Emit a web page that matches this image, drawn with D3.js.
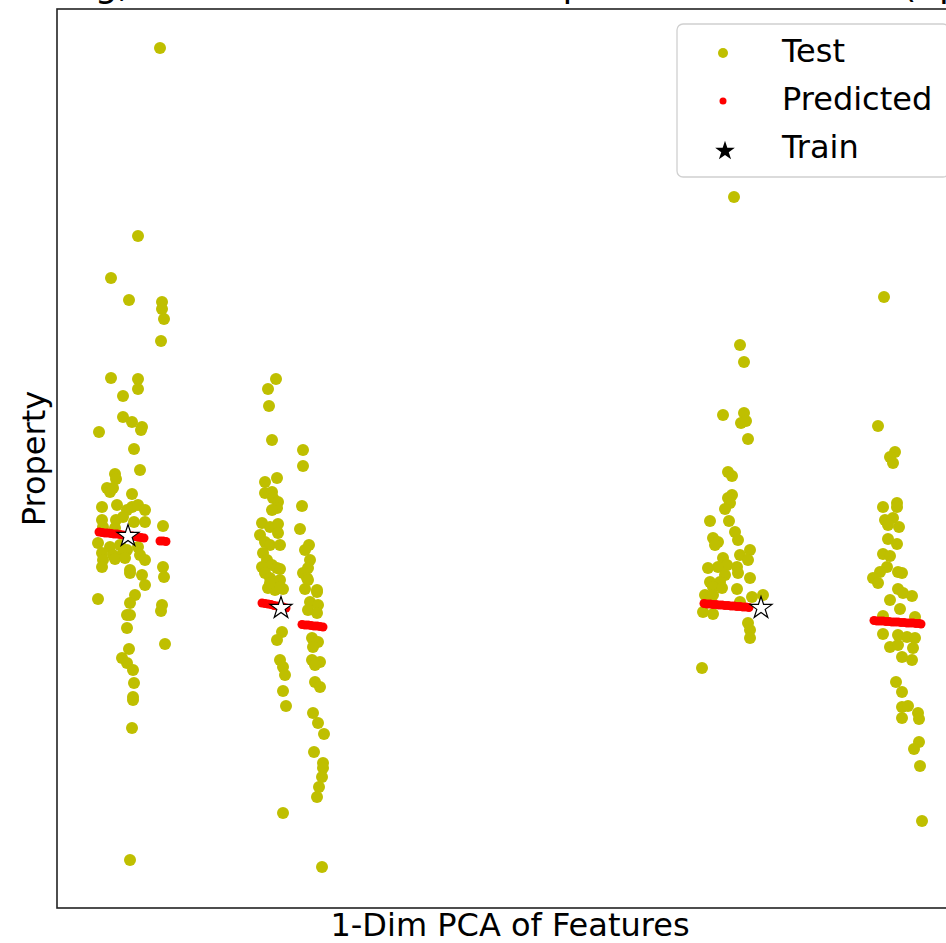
<!DOCTYPE html>
<html>
<head>
<meta charset="utf-8">
<script src="https://cdn.jsdelivr.net/npm/d3@7"></script>
<style>
  html, body { margin: 0; padding: 0; background: #fff; overflow: hidden; }
  svg { display: block; font-family: "DejaVu Sans", sans-serif; }
</style>
</head>
<body>
<svg id="chart" width="946" height="943"></svg>
<script>
// test samples, per cluster: [pca, property]
const testA = [[10.3,86.0],[8.1,67.2],[5.4,63.0],[7.2,60.8],[10.5,60.6],[10.5,59.9],[10.7,58.9],[10.4,56.7],
  [5.4,53.0],[8.1,52.9],[8.1,51.9],[6.6,51.2],[6.6,49.1],[7.5,48.6],[8.5,48.1],[8.4,47.8],[4.2,47.6],[7.7,45.9],
  [8.3,43.8],[5.8,43.4],[5.9,42.9],[5.0,42.0],[5.3,41.6],[5.6,42.0],[7.5,41.4],[4.5,40.1],[6.0,40.3],[7.0,39.8],
  [7.5,40.1],[8.1,40.3],[8.8,39.8],[4.5,38.8],[5.9,38.8],[6.6,39.1],[7.7,38.6],[8.8,38.6],[10.6,38.2],[4.6,38.1],
  [5.8,38.0],[4.1,36.5],[5.3,36.1],[6.3,36.3],[7.0,35.8],[8.1,36.1],[4.5,35.5],[5.6,35.3],[6.6,35.5],[8.3,35.3],
  [8.8,34.8],[4.6,34.8],[5.8,34.9],[6.8,35.0],[4.5,34.1],[10.6,34.1],[10.7,33.1],[7.3,33.8],[7.3,33.5],[8.5,33.3],
  [8.8,32.3],[7.8,31.3],[7.3,30.5],[4.1,30.9],[10.5,30.3],[10.4,29.7],[7.0,29.3],[7.3,29.3],[7.0,28.0],[10.8,26.4],
  [7.2,25.9],[6.5,25.0],[7.0,24.5],[7.6,23.8],[7.7,22.5],[7.6,21.1],[7.6,20.8],[7.5,18.0],[7.3,4.8]]
const testB = [[21.9,52.9],[21.1,51.9],[21.2,50.2],[21.5,46.8],[24.6,45.8],[24.6,44.2],[20.8,42.6],[22.0,43.0],
  [20.8,41.5],[21.5,41.6],[21.6,41.0],[22.1,40.6],[22.0,40.0],[21.5,39.8],[24.5,40.2],[20.5,38.5],[21.3,38.1],
  [22.1,38.4],[22.1,37.5],[24.3,37.9],[20.3,37.3],[20.8,36.6],[21.3,36.3],[22.3,36.3],[25.2,36.3],[24.8,35.8],
  [20.6,35.5],[21.0,34.8],[21.5,34.3],[22.0,34.0],[22.3,33.9],[25.3,34.8],[25.1,34.0],[20.5,34.1],[20.8,33.5],
  [21.3,33.0],[21.8,32.6],[22.3,32.8],[24.6,33.5],[25.0,33.0],[21.1,32.0],[21.8,31.8],[22.6,31.9],[24.8,31.9],
  [26.0,31.8],[21.3,32.5],[22.3,32.1],[25.1,32.8],[26.0,31.6],[25.3,30.6],[26.1,30.3],[25.1,29.8],[26.0,29.5],
  [22.5,27.6],[22.0,26.8],[25.5,27.0],[26.1,26.6],[25.6,26.1],[22.3,24.8],[22.6,24.1],[22.8,23.3],[25.5,24.8],
  [26.3,24.6],[25.8,24.3],[25.8,22.6],[26.3,22.1],[22.6,21.7],[22.9,20.2],[25.6,19.5],[26.1,18.5],[26.7,17.4],
  [25.7,15.6],[26.6,14.5],[26.6,14.0],[26.5,13.1],[26.2,12.1],[26.0,11.1],[22.6,9.5],[26.5,4.1]]
const testC = [[67.7,71.1],[68.3,56.3],[68.7,54.6],[66.6,49.3],[68.7,49.5],[68.4,48.5],[68.9,48.7],[69.1,46.9],
  [67.1,43.6],[67.5,43.2],[67.5,41.3],[67.1,41.0],[67.3,40.5],[66.8,39.9],[65.3,38.7],[67.2,38.7],[67.8,37.6],
  [68.1,36.8],[65.6,37.0],[66.1,36.6],[65.8,36.3],[68.3,35.3],[69.3,35.8],[69.1,34.8],[66.6,35.0],[67.0,34.3],
  [66.1,34.1],[65.1,34.0],[68.0,34.1],[68.1,33.5],[66.8,33.3],[66.3,32.6],[65.3,32.6],[69.3,33.0],[65.6,32.1],
  [66.5,32.0],[68.0,31.9],[64.8,31.3],[65.6,31.3],[68.3,30.6],[69.5,31.1],[70.6,31.3],[64.6,29.6],[65.6,29.4],
  [69.1,28.5],[69.3,27.8],[69.3,27.0],[64.5,24.0]]
const testD = [[82.7,61.1],[82.1,48.2],[83.8,45.6],[83.3,45.1],[83.6,44.5],[82.6,40.1],[84.0,40.5],[84.0,40.1],
  [82.8,38.8],[83.6,39.0],[83.1,38.3],[84.2,38.1],[83.1,36.9],[84.0,36.4],[82.6,35.4],[83.3,35.2],[83.0,34.1],
  [82.3,33.6],[81.6,33.0],[82.1,32.5],[84.1,33.6],[84.5,33.5],[83.3,30.8],[84.1,31.9],[84.6,31.5],[85.5,31.2],
  [84.3,29.9],[82.6,29.2],[85.8,29.1],[82.6,27.4],[84.1,27.3],[85.0,27.1],[85.8,27.0],[83.3,26.1],[84.1,26.3],
  [85.6,26.0],[84.5,25.1],[85.5,24.8],[83.9,22.6],[84.5,21.6],[84.5,20.1],[85.1,20.2],[84.5,19.0],[86.1,19.5],
  [86.2,18.9],[86.2,16.6],[85.7,15.9],[86.3,14.2],[86.5,8.7]]

// model predictions at the test positions
const predA = [[4.2,37.6],[4.5,37.55],[4.8,37.5],[5.1,37.5],[5.4,37.45],[5.7,37.4],[6.0,37.4],[6.3,37.35],
  [6.6,37.3],[6.9,37.25],[7.2,37.2],[7.5,37.2],[7.8,37.15],[8.1,37.1],[8.4,37.05],[8.7,37.0],
  [10.3,36.7],[10.6,36.7],[10.9,36.65]]
const predB = [[20.5,30.5],[20.8,30.45],[21.1,30.4],[21.4,30.35],[21.7,30.25],[22.0,30.2],[22.3,30.15],[22.6,30.1],[22.9,30.0],
  [24.5,28.35],[24.8,28.3],[25.1,28.3],[25.4,28.25],[25.7,28.2],[26.0,28.2],[26.3,28.15],[26.6,28.1]]
const predC = [[64.7,30.45],[65.0,30.4],[65.3,30.4],[65.6,30.35],[65.9,30.35],[66.2,30.3],[66.5,30.3],[66.8,30.25],
  [67.1,30.25],[67.4,30.2],[67.7,30.2],[68.0,30.15],[68.3,30.15],[68.6,30.1],[68.9,30.1],[69.2,30.05]]
const predD = [[81.7,28.75],[82.0,28.7],[82.3,28.7],[82.6,28.7],[82.9,28.65],[83.2,28.65],[83.5,28.6],[83.8,28.6],
  [84.1,28.6],[84.4,28.55],[84.7,28.55],[85.0,28.5],[85.3,28.5],[85.6,28.5],[85.9,28.45],[86.2,28.45],[86.4,28.4]]

const train = [[7.1,37.2],[22.4,30.0],[70.4,30.0]]

const legendLabels = ["Test", "Predicted", "Train"]

const width = 946
const height = 943
const margin = {top: 9, left: 57, right: -17, bottom: 35}

const svg = d3.select('#chart')

const xScale = d3.scaleLinear().domain([0, 90.6]).range([margin.left, width - margin.right])
const yScale = d3.scaleLinear().domain([0, 89.9]).range([height - margin.bottom, margin.top])

const testColor = '#bfbf00'
const predColor = '#ff0000'

// title sits mostly above the visible area
svg.append('text')
  .attr('x', (margin.left + width - margin.right) / 2)
  .attr('y', -3)
  .attr('text-anchor', 'middle')
  .attr('font-size', 36)
  .text('Training, Test and Predicted Samples vs 1-Dim PCA (Split 1)')

const plot = svg.append('g')

plot.append('g')
  .selectAll('circle')
  .data([...testA, ...testB, ...testC, ...testD])
  .join('circle')
  .attr('cx', d => xScale(d[0]))
  .attr('cy', d => yScale(d[1]))
  .attr('r', 6)
  .attr('fill', testColor)

plot.append('g')
  .selectAll('circle')
  .data([...predA, ...predB, ...predC, ...predD])
  .join('circle')
  .attr('cx', d => xScale(d[0]))
  .attr('cy', d => yScale(d[1]))
  .attr('r', 4.5)
  .attr('fill', predColor)

const star = d3.symbol().type(d3.symbolStar)

plot.append('g')
  .selectAll('path')
  .data(train)
  .join('path')
  .attr('transform', d => `translate(${xScale(d[0])},${yScale(d[1])})`)
  .attr('d', star.size(150))
  .attr('fill', '#fff')
  .attr('stroke', '#000')
  .attr('stroke-width', 1.2)

// axes frame, ticks hidden
const [x0, x1] = xScale.range()
const [y0, y1] = yScale.range()
svg.append('rect')
  .attr('x', x0)
  .attr('y', y1)
  .attr('width', x1 - x0)
  .attr('height', y0 - y1)
  .attr('fill', 'none')
  .attr('stroke', '#222')
  .attr('stroke-width', 1.6)

svg.append('text')
  .attr('x', (x0 + x1) / 2)
  .attr('y', 936)
  .attr('text-anchor', 'middle')
  .attr('font-size', 32)
  .text('1-Dim PCA of Features')

svg.append('text')
  .attr('transform', `translate(45, ${(y0 + y1) / 2}) rotate(-90)`)
  .attr('text-anchor', 'middle')
  .attr('font-size', 32)
  .text('Property')

// legend
const legend = svg.append('g').attr('transform', 'translate(677, 24)')
legend.append('rect')
  .attr('width', 272)
  .attr('height', 153)
  .attr('rx', 6)
  .attr('fill', 'rgba(255,255,255,0.8)')
  .attr('stroke', '#d0d0d0')
  .attr('stroke-width', 1.3)

const rows = legend.selectAll('g.row')
  .data(legendLabels)
  .join('g')
  .attr('class', 'row')
  .attr('transform', (d, i) => `translate(0, ${26 + i * 48})`)

rows.append('text')
  .attr('x', 105)
  .attr('y', 0)
  .attr('dy', '0.36em')
  .attr('font-size', 32)
  .text(d => d)

rows.filter((d, i) => i === 0).append('circle').attr('cx', 46).attr('cy', 3).attr('r', 5).attr('fill', testColor)
rows.filter((d, i) => i === 1).append('circle').attr('cx', 46).attr('cy', 3).attr('r', 3.5).attr('fill', predColor)
rows.filter((d, i) => i === 2).append('path')
  .attr('transform', 'translate(48, 5)')
  .attr('d', d3.symbol().type(d3.symbolStar).size(120)())
  .attr('fill', '#000')
</script>
</body>
</html>
